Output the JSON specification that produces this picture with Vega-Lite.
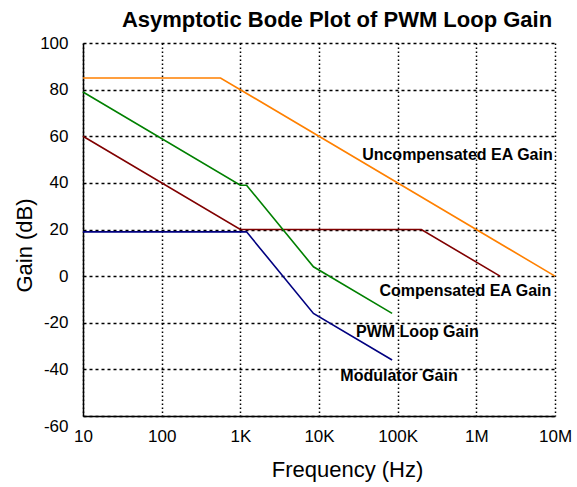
{
  "$schema": "https://vega.github.io/schema/vega-lite/v6.json",
  "width": 472,
  "height": 373,
  "autosize": {"type": "none"},
  "padding": {"left": 83, "top": 43, "right": 22, "bottom": 71},
  "background": "white",
  "config": {
    "view": {"stroke": null},
    "font": "Liberation Sans"
  },
  "title": {
    "text": "Asymptotic Bode Plot of PWM Loop Gain",
    "font": "Liberation Sans",
    "fontSize": 22,
    "fontWeight": "bold",
    "color": "black",
    "anchor": "middle",
    "frame": "group",
    "dx": 18,
    "baseline": "bottom",
    "offset": -20
  },
  "datasets": {
    "lines": [
      {"series": "Uncompensated EA Gain", "freq": 10, "gain": 85},
      {"series": "Uncompensated EA Gain", "freq": 560, "gain": 85},
      {"series": "Uncompensated EA Gain", "freq": 10000000, "gain": 0},
      {"series": "Compensated EA Gain", "freq": 10, "gain": 60},
      {"series": "Compensated EA Gain", "freq": 1000, "gain": 20},
      {"series": "Compensated EA Gain", "freq": 200000, "gain": 20},
      {"series": "Compensated EA Gain", "freq": 2000000, "gain": 0},
      {"series": "PWM Loop Gain", "freq": 10, "gain": 79},
      {"series": "PWM Loop Gain", "freq": 1000, "gain": 39},
      {"series": "PWM Loop Gain", "freq": 1200, "gain": 39},
      {"series": "PWM Loop Gain", "freq": 8500, "gain": 4},
      {"series": "PWM Loop Gain", "freq": 85000, "gain": -16},
      {"series": "Modulator Gain", "freq": 10, "gain": 19},
      {"series": "Modulator Gain", "freq": 1200, "gain": 19},
      {"series": "Modulator Gain", "freq": 8500, "gain": -16},
      {"series": "Modulator Gain", "freq": 85000, "gain": -36}
    ],
    "labels": [
      {"label": "Uncompensated EA Gain", "freq": 575000, "gain": 51.9},
      {"label": "Compensated EA Gain", "freq": 725000, "gain": -6.3},
      {"label": "PWM Loop Gain", "freq": 178000, "gain": -23.8},
      {"label": "Modulator Gain", "freq": 104000, "gain": -42.7}
    ]
  },
  "layer": [
    {
      "data": {"name": "lines"},
      "mark": {"type": "line", "strokeWidth": 1.6},
      "encoding": {
        "x": {
          "field": "freq",
          "type": "quantitative",
          "scale": {"type": "log", "domain": [10, 10000000], "nice": false},
          "axis": {
            "values": [10, 100, 1000, 10000, 100000, 1000000, 10000000],
            "labelExpr": "datum.value >= 1000000 ? format(datum.value/1000000, 'd') + 'M' : datum.value >= 1000 ? format(datum.value/1000, 'd') + 'K' : format(datum.value, 'd')",
            "title": "Frequency (Hz)",
            "titleFont": "Liberation Sans",
            "titleFontSize": 22,
            "titleFontWeight": "normal",
            "titleColor": "black",
            "titlePadding": 15,
            "titleAnchor": "middle",
            "titleX": 264,
            "labelFont": "Liberation Sans",
            "labelFontSize": 17,
            "labelColor": "black",
            "labelPadding": 12,
            "labelFlush": false,
            "labelOverlap": false,
            "ticks": false,
            "domainColor": "black",
            "domainWidth": 1.5,
            "grid": true,
            "gridColor": "black",
            "gridOpacity": 1,
            "gridWidth": 1.5,
            "gridDash": [1.5, 2.5]
          }
        },
        "y": {
          "field": "gain",
          "type": "quantitative",
          "scale": {"domain": [-60, 100], "nice": false},
          "axis": {
            "values": [-60, -40, -20, 0, 20, 40, 60, 80, 100],
            "labelExpr": "'' + datum.value",
            "title": "Gain (dB)",
            "titleFont": "Liberation Sans",
            "titleFontSize": 22,
            "titleFontWeight": "normal",
            "titleColor": "black",
            "titlePadding": 3,
            "titleAnchor": "middle",
            "titleY": 202,
            "labelFont": "Liberation Sans",
            "labelFontSize": 17,
            "labelColor": "black",
            "labelPadding": 15,
            "labelFlush": false,
            "labelOverlap": false,
            "labelOffset": {"condition": {"test": "datum.value === -60", "value": 10}, "value": 0},
            "ticks": false,
            "domainColor": "black",
            "domainWidth": 1.5,
            "grid": true,
            "gridColor": "black",
            "gridOpacity": 1,
            "gridWidth": 1.5,
            "gridDash": [3, 3]
          }
        },
        "color": {
          "field": "series",
          "type": "nominal",
          "scale": {
            "domain": ["Uncompensated EA Gain", "Compensated EA Gain", "PWM Loop Gain", "Modulator Gain"],
            "range": ["#ff8000", "#800000", "#008000", "#000080"]
          },
          "legend": null
        }
      }
    },
    {
      "data": {"name": "labels"},
      "mark": {"type": "text", "font": "Liberation Sans", "fontSize": 16, "fontWeight": "bold", "color": "black", "align": "center", "baseline": "middle"},
      "encoding": {
        "x": {"field": "freq", "type": "quantitative"},
        "y": {"field": "gain", "type": "quantitative"},
        "text": {"field": "label"}
      }
    }
  ]
}
